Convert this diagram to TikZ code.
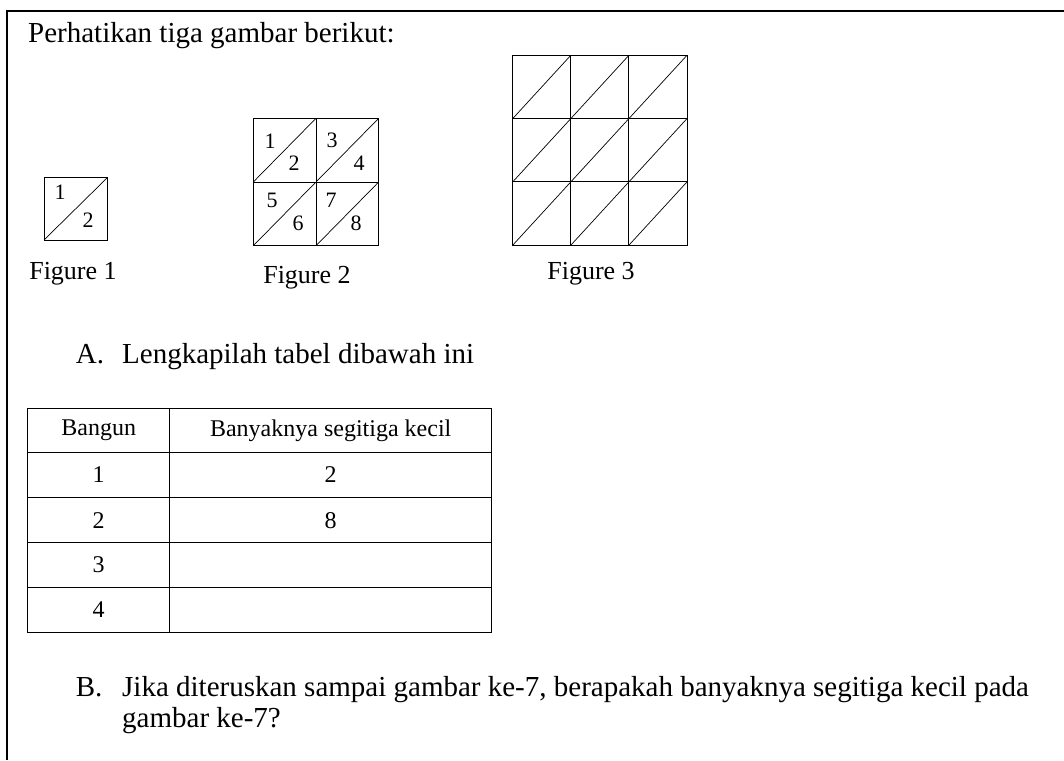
\documentclass[tikz,border=0pt]{standalone}
\usepackage{fontspec}
\setmainfont{Liberation Serif}
\begin{document}
\begin{tikzpicture}[x=1pt, y=-1pt, inner sep=0pt]
\useasboundingbox (0,0) rectangle (1064,760);
\draw[line width=2pt](7,760)--(7,11)--(1064,11);
\node[anchor=base west, font=\fontsize{29}{33}\selectfont] (title) at (28,43) {Perhatikan tiga gambar berikut:};
% Figure 1
\draw[line width=.9pt](44,177.7) rectangle (107.3,240);
\draw[line width=.7pt](44,240)--(107.3,177.7);
\node[font=\fontsize{22}{26}\selectfont] (fa1) at (60,192) {1};
\node[font=\fontsize{22}{26}\selectfont] (fa2) at (88,220) {2};
\node[anchor=base, font=\fontsize{26}{30}\selectfont] (cap1) at (73,279) {Figure 1};
% Figure 2
\foreach \i in {0,1}
{
    \foreach \j in {0,1}
    {
        \draw[line width=.9pt](253.3+62.7*\i,118.3+63.7*\j) rectangle +(62.7,63.7);
        \draw[line width=.7pt](253.3+62.7*\i,182+63.7*\j)--+(62.7,-63.7);
    }
}
\foreach \n/\x/\y in {1/270/141, 2/294/163, 3/332/140, 4/359/163, 5/272/200, 6/298/223, 7/331/200, 8/356/223}
    \node[font=\fontsize{22}{26}\selectfont] (fb\n) at (\x,\y) {\n};
\node[anchor=base, font=\fontsize{26}{30}\selectfont] (cap2) at (307,283) {Figure 2};
% Figure 3
\foreach \i in {0,1,2}
{
    \foreach \j in {0,1,2}
    {
        \draw[line width=.9pt](512.7+58.1*\i,55.3+63.3*\j) rectangle +(58.1,63.3);
        \draw[line width=.7pt](512.7+58.1*\i,118.6+63.3*\j)--+(58.1,-63.3);
    }
}
\node[anchor=base, font=\fontsize{26}{30}\selectfont] (cap3) at (591,279) {Figure 3};
% A
\node[anchor=base west, font=\fontsize{29}{33}\selectfont] (qa) at (75.7,363) {A.};
\node[anchor=base west, font=\fontsize{29}{33}\selectfont] (qatext) at (122,363) {Lengkapilah tabel dibawah ini};
% table
\draw[line width=1.3pt](27.7,408.3) rectangle (491.7,632.3);
\draw[line width=1.3pt](169.7,408.3)--(169.7,632.3);
\foreach \y in {452.3, 497.7, 542.7, 587.3}
    \draw[line width=1.3pt](27.7,\y)--(491.7,\y);
\node[font=\fontsize{24}{28}\selectfont] (hbangun) at (98.7,430.3) {Bangun};
\node[font=\fontsize{24}{28}\selectfont] (hjumlah) at (330.7,430.3) {Banyaknya segitiga kecil};
\foreach \n/\y in {1/475, 2/520.2, 3/565, 4/609.8}
    \node[font=\fontsize{24}{28}\selectfont] (row\n) at (98.7,\y) {\n};
\node[font=\fontsize{24}{28}\selectfont] (val1) at (330.7,475) {2};
\node[font=\fontsize{24}{28}\selectfont] (val2) at (330.7,520.2) {8};
% B
\node[anchor=base west, font=\fontsize{29}{33}\selectfont] (qb) at (75.7,696) {B.};
\node[anchor=base west, font=\fontsize{29}{33}\selectfont] (qbtext) at (122,696) {Jika diteruskan sampai gambar ke-7, berapakah banyaknya segitiga kecil pada};
\node[anchor=base west, font=\fontsize{29}{33}\selectfont] (qbtext2) at (122,727) {gambar ke-7?};
\end{tikzpicture}
\end{document}
